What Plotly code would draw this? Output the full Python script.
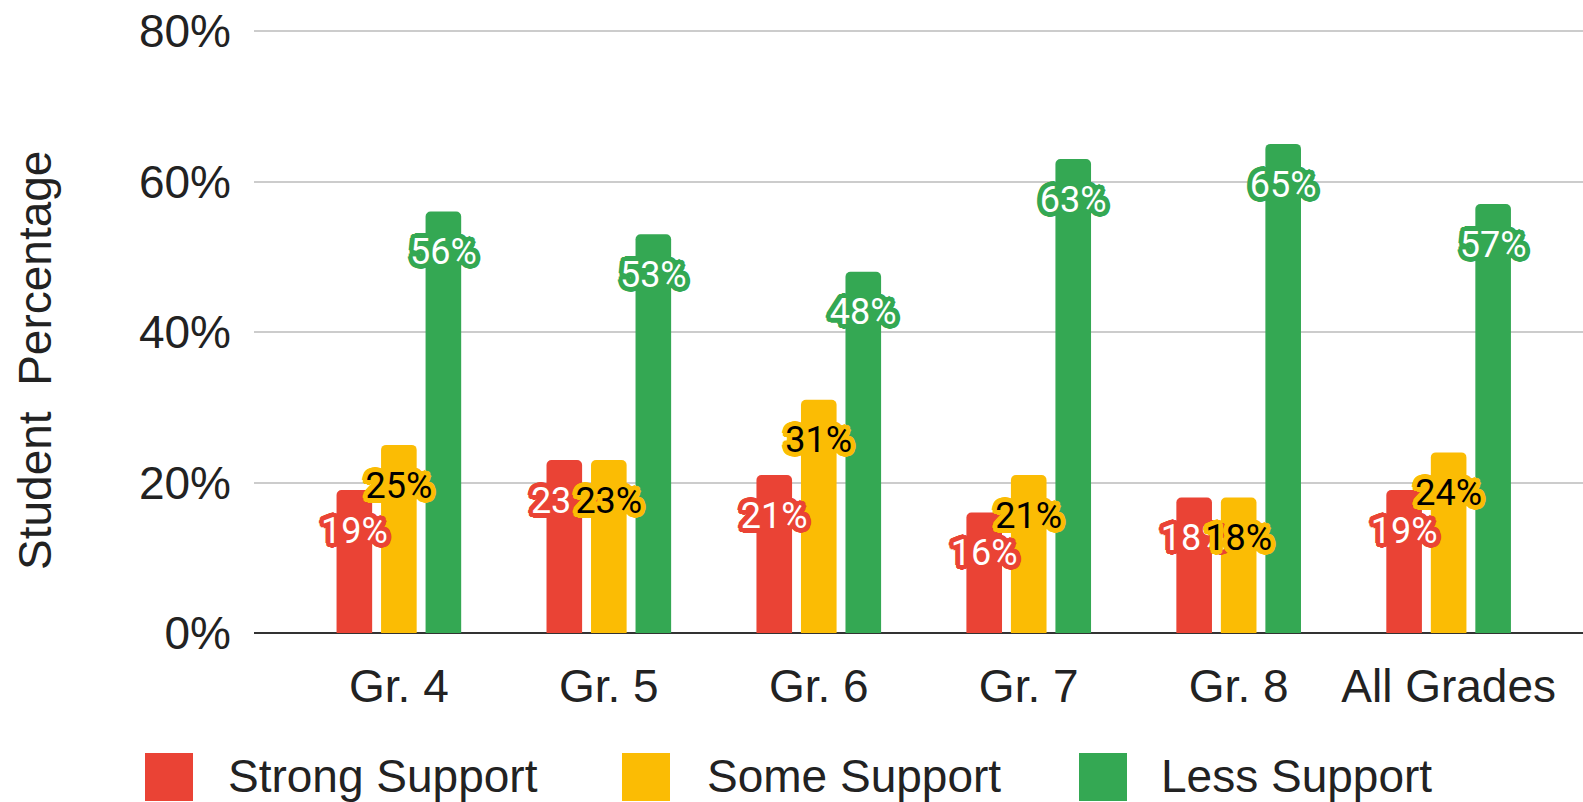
import plotly.graph_objects as go

categories = ["Gr. 4", "Gr. 5", "Gr. 6", "Gr. 7", "Gr. 8", "All Grades"]
strong_support = [19, 23, 21, 16, 18, 19]
some_support = [25, 23, 31, 21, 18, 24]
less_support = [56, 53, 48, 63, 65, 57]
series_names = ["Strong Support", "Some Support", "Less Support"]
y_ticks = [0, 20, 40, 60, 80]
y_tick_labels = ["0%", "20%", "40%", "60%", "80%"]

series = [strong_support, some_support, less_support]
colors = ["#ea4335", "#fbbc04", "#34a853"]
text_colors = ["#ffffff", "#000000", "#ffffff"]

W, H = 1583, 802
Y_MAX = 80.4
L, R, T, B = 254, 0, 28, 169
PW, PH = W - L - R, H - T - B


def px_x(p):
    return (p - L) / PW


def px_y(p):
    return (H - B - p) / PH


def halo(c, r=5):
    pts = []
    for dx in range(-r, r + 1):
        for dy in range(-r, r + 1):
            if (dx or dy) and dx * dx + dy * dy <= r * r:
                pts.append((dx, dy))
    return ", ".join(f"{c} {dx}px {dy}px 0px" for dx, dy in pts)


fig = go.Figure()
for i, (name, vals) in enumerate(zip(series_names, series)):
    fig.add_trace(go.Bar(
        x=categories, y=vals, name=name,
        marker=dict(color=colors[i], cornerradius=5, line=dict(width=0)),
        offsetgroup=str(i), showlegend=False, hoverinfo="skip",
    ))

LABEL_DROP = 5.8  # label sits below the bar top (in axis units)
for i, (name, vals) in enumerate(zip(series_names, series)):
    fig.add_trace(go.Scatter(
        x=categories, y=[v - LABEL_DROP for v in vals],
        mode="text", text=[f"{v}%" for v in vals],
        textposition="middle center",
        textfont=dict(family="Roboto", size=36, color=text_colors[i],
                      shadow=halo(colors[i])),
        offsetgroup=str(i), showlegend=False, hoverinfo="skip",
    ))

shapes = []
annotations = []
legend_swatch_x = [145, 622, 1079]
legend_text_x = [226, 705, 1159]
for i, name in enumerate(series_names):
    x0 = legend_swatch_x[i]
    shapes.append(dict(
        type="rect", xref="paper", yref="paper",
        x0=px_x(x0), x1=px_x(x0 + 48), y0=px_y(753), y1=px_y(801),
        fillcolor=colors[i], line=dict(width=0), layer="above",
    ))
    annotations.append(dict(
        text=name, xref="paper", yref="paper",
        x=px_x(legend_text_x[i]), y=px_y(776), xanchor="left", yanchor="middle",
        showarrow=False, font=dict(family="Liberation Sans, Arial", size=46, color="#222222"),
    ))

annotations.append(dict(
    text="Student  Percentage", xref="paper", yref="paper",
    x=px_x(35), y=px_y(361), xanchor="center", yanchor="middle", textangle=-90,
    showarrow=False, font=dict(family="Liberation Sans, Arial", size=46, color="#222222"),
))

fig.update_layout(
    width=W, height=H,
    margin=dict(l=L, r=R, t=T, b=B, pad=0),
    paper_bgcolor="white", plot_bgcolor="white",
    barmode="group", bargap=0.364, bargroupgap=0.2,
    scattermode="group", scattergap=0.364,
    showlegend=False,
    font=dict(family="Liberation Sans, Arial", size=46, color="#222222"),
    xaxis=dict(
        type="category", range=[-0.69, 5.64], showgrid=False, zeroline=False,
        showline=False, ticks="", ticklabelstandoff=22,
        tickfont=dict(family="Liberation Sans, Arial", size=46, color="#222222"),
    ),
    yaxis=dict(
        range=[0, Y_MAX], tickvals=y_ticks, ticktext=y_tick_labels,
        showgrid=True, gridcolor="#cccccc", gridwidth=2,
        zeroline=True, zerolinecolor="#333333", zerolinewidth=2,
        showline=False, ticks="", ticklabelstandoff=22,
        tickfont=dict(family="Liberation Sans, Arial", size=46, color="#222222"),
    ),
    shapes=shapes, annotations=annotations,
)

fig.write_html(
    "out.html",
    config={"displayModeBar": False},
    post_script="document.body.style.margin='0';document.body.style.overflow='hidden';",
)
